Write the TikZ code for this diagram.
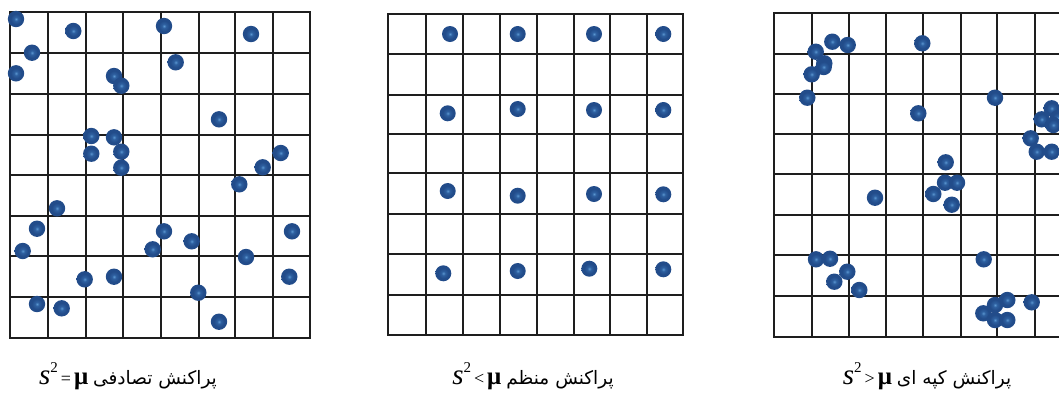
\documentclass[tikz,border=0pt]{standalone}
\usepackage{fontspec}
\setmainfont{Liberation Serif}
\newfontfamily\fa[Script=Arabic]{DejaVu Sans}
\TeXXeTstate=1
\definecolor{dotout}{RGB}{34,76,138}
\definecolor{dotmid}{RGB}{46,96,160}
\definecolor{dotin}{RGB}{90,150,208}
\definecolor{gridc}{RGB}{30,30,30}
\pgfdeclareradialshading{dotshade}{\pgfpoint{0bp}{0bp}}{color(0bp)=(dotin); color(6bp)=(dotmid); color(16bp)=(dotout); color(25bp)=(dotout); color(50bp)=(dotout)}
\newcommand\ssq{{\fontsize{29}{29}\selectfont\itshape s}\raisebox{12pt}{\fontsize{15}{15}\selectfont 2}}
\newcommand\muu{{\fontsize{25}{25}\selectfont\bfseries μ}}
\newcommand\rel[1]{\hspace{3pt}{\fontsize{18}{18}\selectfont #1}\hspace{3pt}}
\newcommand\persian[1]{{\fontsize{18.5}{18.5}\selectfont\fa\beginR #1\endR}}
\begin{document}
\begin{tikzpicture}[x=1pt,y=-1pt,
  gridline/.style={draw=gridc,line width=1.5pt,line cap=rect},
  dotball/.style={shading=dotshade},
  lbl/.style={anchor=base,inner sep=0pt}]
\useasboundingbox (0,0) rectangle (1059,392);
\clip (0,0) rectangle (1059,392);
\fill[white] (0,0) rectangle (1059,392);
% panel 1 grid
\foreach \xx in {10,48,86,123,161,199,235,273,310}
  \draw[gridline] (\xx,12) -- (\xx,338);
\foreach \yy in {12,53,94,135,175,216,256,297,338}
  \draw[gridline] (10,\yy) -- (310,\yy);
% panel 2 grid
\foreach \xx in {388,426,463,500,537,574,610,647,683}
  \draw[gridline] (\xx,14) -- (\xx,335);
\foreach \yy in {14,54,95,134,173,214,254,295,335}
  \draw[gridline] (388,\yy) -- (683,\yy);
% panel 3 grid
\foreach \xx in {774,812,849,886,923,961,997,1035,1072}
  \draw[gridline] (\xx,13) -- (\xx,337);
\foreach \yy in {13,54,94,134,174,215,255,296,337}
  \draw[gridline] (774,\yy) -- (1072,\yy);
% panel 1 dots (random)
\foreach \x/\y in {16/19,73.3/31,164/26,251/34,32/52.7,16/73.3,114/76,121.3/85.7,175.7/62.3,
  219/119.3,91.3/136,114/137.3,91.3/153.7,121.3/151.7,121.3/167.7,280.7/153,262.7/167.3,
  239.3/184.3,57/208.3,37/228.7,22.7/251,164/231.3,152.7/249.3,191.7/241.3,292/231.3,
  246/257,84.7/279.3,114/276.7,289.3/276.7,198.3/292.7,37/304,61.7/308.3,219/321.7}
  \shade[dotball] (\x,\y) circle[radius=8.2];
% panel 2 dots (regular)
\foreach \x/\y in {450/34,517.7/34,594/34,663.3/34,
  447.7/113.3,517.7/109,594/110,663.3/110,
  447.7/191,517.7/195.7,594/194,663.3/194.3,
  443.3/273.3,517.7/271,589.3/268.7,663.3/269.3}
  \shade[dotball] (\x,\y) circle[radius=8];
% panel 3 dots (clumped)
\foreach \x/\y in {832.3/41.7,847.7/45,922.3/43.3,815.7/51.7,824.3/63.3,823.7/67,811.7/74.3,807.3/97.7,
  995/97.7,918.3/113.3,
  1051.7/108.3,1041.7/119.3,1058/118,1053.3/125,1030.7/138.3,1036.7/151.7,1051.7/151.7,
  945.7/162.3,945/182.7,957/182.7,933.3/194,951.7/204.7,875/197.7,
  816/259.3,830/258.7,847.3/271.7,834.3/281.7,859.3/290,983.7/259.3,
  1031.7/302.3,1007.3/300,995/305,983.3/313.3,995/320,1007.3/320}
  \shade[dotball] (\x,\y) circle[radius=8.2];
% labels
\node[lbl] (l1) at (128,384) {\ssq\rel{=}\muu\hspace{5pt}\persian{پراکنش تصادفی}};
\node[lbl] (l2) at (533,384) {\ssq\rel{<}\muu\hspace{5pt}\persian{پراکنش منظم}};
\node[lbl] (l3) at (927,384) {\ssq\rel{>}\muu\hspace{5pt}\persian{پراکنش کپه ای}};
\end{tikzpicture}
\end{document}
